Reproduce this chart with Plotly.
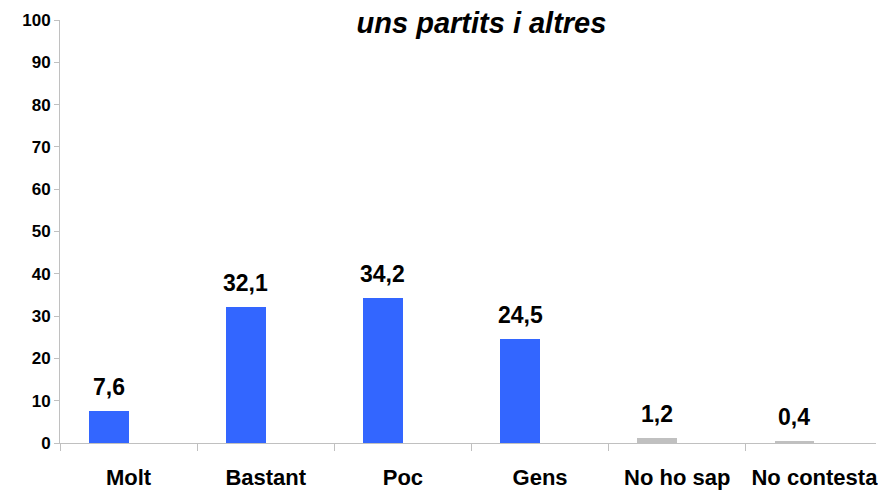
import plotly.graph_objects as go

# Response categories and percentages
categories = ["Molt", "Bastant", "Poc", "Gens", "No ho sap", "No contesta"]
values = [7.6, 32.1, 34.2, 24.5, 1.2, 0.4]
value_labels = ["7,6", "32,1", "34,2", "24,5", "1,2", "0,4"]
bar_colors = ["#3366FF", "#3366FF", "#3366FF", "#3366FF", "#C0C0C0", "#C0C0C0"]

y_ticks = [0, 10, 20, 30, 40, 50, 60, 70, 80, 90, 100]

FONT = "Liberation Sans, Arial, sans-serif"
BAR_W = 0.291  # bar width as a fraction of a category slot

fig = go.Figure(
    go.Bar(
        x=categories,
        y=values,
        width=BAR_W,
        offset=-BAR_W,
        marker=dict(color=bar_colors, line=dict(width=0)),
        hoverinfo="x+y",
        showlegend=False,
    )
)

# value labels centred over each bar
for cat, val, lab in zip(categories, values, value_labels):
    fig.add_annotation(
        x=cat, y=val, text=lab, showarrow=False,
        xanchor="center", yanchor="bottom",
        xshift=-20, yshift=9,
        font=dict(family=FONT, size=23, color="black", weight="bold"),
    )

fig.update_layout(
    width=878, height=490,
    margin=dict(l=60, r=0, t=20, b=44),
    paper_bgcolor="white", plot_bgcolor="white",
    bargap=0,
    title=dict(
        text="<b><i>uns partits i altres</i></b>",
        font=dict(family=FONT, size=29, color="black"),
        xref="container", x=0.5484, xanchor="center",
        yref="container", y=0.9524, yanchor="middle",
    ),
    xaxis=dict(
        type="category",
        range=[-0.5, 5.449],
        showline=True, linecolor="#C0C0C0", linewidth=1,
        ticks="outside", tickson="boundaries", ticklen=7, tickcolor="#C0C0C0",
        showgrid=False, zeroline=False,
        tickfont=dict(family=FONT, size=22, color="black", weight="bold"),
        ticklabelstandoff=15,
    ),
    yaxis=dict(
        range=[0, 100],
        tickvals=y_ticks,
        showline=True, linecolor="#C0C0C0", linewidth=1,
        ticks="outside", ticklen=5, tickcolor="#C0C0C0",
        showgrid=False, zeroline=False,
        tickfont=dict(family=FONT, size=17, color="black", weight="bold"),
    ),
)

fig.write_html("out.html")
